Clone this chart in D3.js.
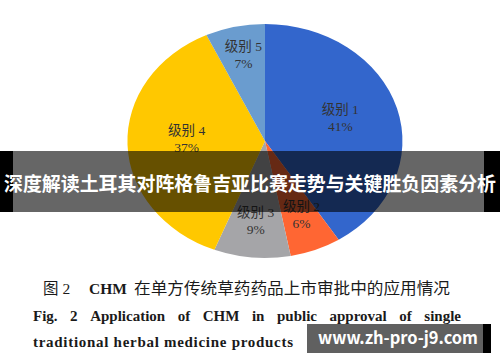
<!DOCTYPE html>
<html>
<head>
<meta charset="utf-8">
<script src="https://cdn.jsdelivr.net/npm/d3@7"></script>
<style>
  html, body { margin: 0; padding: 0; background: #fff; }
  svg { display: block; }
</style>
</head>
<body>
<div id="chart"></div>
<script>
// chart data
const categories = ['级别 1', '级别 2', '级别 3', '级别 4', '级别 5'];
const shares = [41, 6, 9, 37, 7];
const sliceColors = ['#3366cc', '#ff6633', '#a5a5a8', '#ffc800', '#6a9ccf'];

const captionZh = ['图 2', 'CHM', '在单方传统草药药品上市审批中的应用情况'];
const captionEn1 = 'Fig. 2 Application of CHM in public approval of single';
const captionEn2 = 'traditional herbal medicine products';
const bannerText = '深度解读土耳其对阵格鲁吉亚比赛走势与关键胜负因素分析';
const watermark = 'www.zh-pro-j9.com';

const W = 500, H = 362;
const CX = 265, CY = 141, RX = 137.5, RY = 117;
const SERIF = '"Liberation Serif", "Times New Roman", "Noto Sans CJK SC", serif';
const SANS = '"Noto Sans CJK SC", "Noto Sans", sans-serif';

const svg = d3.select('#chart').append('svg')
  .attr('width', W).attr('height', H);

// pie (drawn on a unit circle, then stretched into the ellipse)
const pie = d3.pie().sort(null).value(d => d);
const arcs = pie(shares);
const arc = d3.arc().innerRadius(0).outerRadius(1);

const pieG = svg.append('g')
  .attr('transform', `translate(${CX},${CY}) scale(${RX},${RY})`);
pieG.selectAll('path')
  .data(arcs)
  .join('path')
  .attr('d', arc)
  .attr('fill', (d, i) => sliceColors[i]);

// labels: large slices closer to centre, small ones further out
const labelG = svg.append('g').attr('transform', `translate(${CX},${CY})`);
const label = labelG.selectAll('g.lbl')
  .data(arcs)
  .join('g')
  .attr('class', 'lbl')
  .attr('transform', d => {
    const r = d.data > 20 ? 0.57 : 0.72;
    const a = (d.startAngle + d.endAngle) / 2;
    return `translate(${Math.sin(a) * r * RX},${-Math.cos(a) * r * RY})`;
  });
label.append('text')
  .attr('y', -8)
  .attr('text-anchor', 'middle')
  .attr('font-family', SERIF)
  .attr('font-size', 13.5)
  .attr('fill', '#333')
  .text((d, i) => categories[i]);
label.append('text')
  .attr('y', 9)
  .attr('text-anchor', 'middle')
  .attr('font-family', SERIF)
  .attr('font-size', 13.5)
  .attr('fill', '#333')
  .text(d => d.data + '%');

// caption
svg.append('text')
  .attr('x', 43).attr('y', 294)
  .attr('font-family', SERIF).attr('font-size', 15.5)
  .attr('fill', '#1a1a1a')
  .text(captionZh[0]);
svg.append('text')
  .attr('x', 89).attr('y', 294)
  .attr('font-family', SERIF).attr('font-size', 15.5).attr('font-weight', 'bold')
  .attr('fill', '#1a1a1a')
  .text(captionZh[1]);
svg.append('text')
  .attr('x', 134).attr('y', 294)
  .attr('font-family', SERIF).attr('font-size', 15.5)
  .attr('fill', '#1a1a1a')
  .attr('textLength', 316).attr('lengthAdjust', 'spacingAndGlyphs')
  .text(captionZh[2]);

// justified english line: spread words between x0 and x1
function justify(str, x0, x1, y) {
  const words = str.split(' ');
  const g = svg.append('g');
  const nodes = words.map(w => g.append('text')
    .attr('y', y)
    .attr('font-family', SERIF).attr('font-size', 15).attr('font-weight', 'bold')
    .attr('fill', '#1a1a1a')
    .text(w));
  const widths = nodes.map(n => n.node().getComputedTextLength());
  const total = d3.sum(widths);
  const gap = (x1 - x0 - total) / (words.length - 1);
  let x = x0;
  nodes.forEach((n, i) => { n.attr('x', x); x += widths[i] + gap; });
}
justify(captionEn1, 33, 461, 321);
svg.append('text')
  .attr('x', 33).attr('y', 347)
  .attr('font-family', SERIF).attr('font-size', 15).attr('font-weight', 'bold')
  .attr('fill', '#1a1a1a')
  .attr('textLength', 260).attr('lengthAdjust', 'spacing')
  .text(captionEn2);

// overlay banner
svg.append('rect').attr('x', 0).attr('y', 151).attr('width', 13).attr('height', 61).attr('fill', '#000');
svg.append('rect').attr('x', 484).attr('y', 151).attr('width', 16).attr('height', 61).attr('fill', '#000');
svg.append('rect').attr('x', 13).attr('y', 151).attr('width', 471).attr('height', 61)
  .attr('fill', '#000').attr('fill-opacity', 0.6);
svg.append('text')
  .attr('x', 250).attr('y', 191)
  .attr('text-anchor', 'middle')
  .attr('font-family', SANS).attr('font-size', 19.5).attr('font-weight', 'bold')
  .attr('fill', '#fff')
  .attr('textLength', 492).attr('lengthAdjust', 'spacingAndGlyphs')
  .text(bannerText);

// watermark
svg.append('rect').attr('x', 307).attr('y', 324).attr('width', 176).attr('height', 29).attr('fill', '#606060');
svg.append('rect').attr('x', 483).attr('y', 324).attr('width', 8).attr('height', 29).attr('fill', '#000');
svg.append('text')
  .attr('x', 318).attr('y', 344)
  .attr('font-family', SANS).attr('font-size', 17).attr('font-weight', 'bold')
  .attr('fill', '#fff')
  .attr('textLength', 160).attr('lengthAdjust', 'spacingAndGlyphs')
  .text(watermark);
</script>
</body>
</html>
